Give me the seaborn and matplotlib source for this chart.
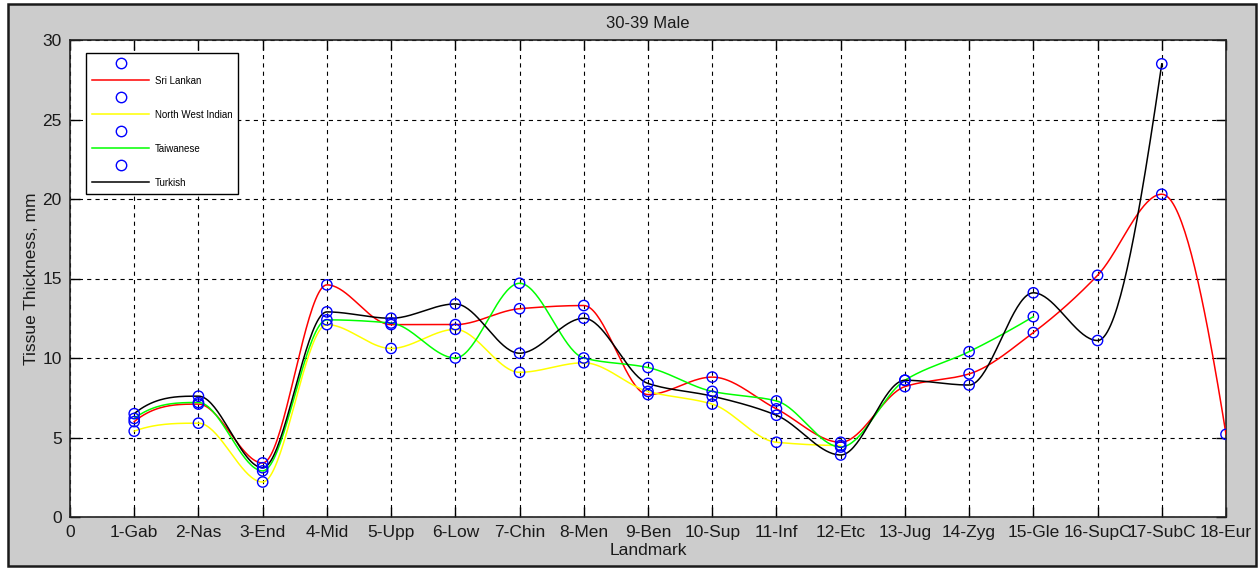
import numpy as np
import pandas as pd
import matplotlib
matplotlib.use("Agg")
import matplotlib.pyplot as plt
from matplotlib.lines import Line2D
from matplotlib.patches import Rectangle
import seaborn as sns

# ---------------- data ----------------
landmarks = ["1-Gab", "2-Nas", "3-End", "4-Mid", "5-Upp", "6-Low", "7-Chin", "8-Men",
             "9-Ben", "10-Sup", "11-Inf", "12-Etc", "13-Jug", "14-Zyg", "15-Gle",
             "16-SupC", "17-SubC", "18-Eur"]
sri_lankan = [6.0, 7.1, 3.4, 14.6, 12.1, 12.1, 13.1, 13.3, 7.7, 8.8, 6.8, 4.7,
              8.2, 9.0, 11.6, 15.2, 20.3, 5.2]
nw_indian = [5.4, 5.9, 2.2, 12.1, 10.6, 11.8, 9.1, 9.7, 7.9, 7.1, 4.7, 4.5]
taiwanese = [6.2, 7.2, 2.9, 12.4, 12.2, 10.0, 14.7, 10.0, 9.4, 7.9, 7.3, 4.4,
             8.6, 10.4, 12.6]
turkish = [6.5, 7.6, 3.1, 12.9, 12.5, 13.4, 10.3, 12.5, 8.4, 7.6, 6.4, 3.9,
           8.6, 8.3, 14.1, 11.1, 28.5]
series_names = ["Sri Lankan", "North West Indian", "Taiwanese", "Turkish"]
series_values = [sri_lankan, nw_indian, taiwanese, turkish]
series_colors = ["#ff0000", "#ffff00", "#00ff00", "#000000"]


def pchip(y, n_per=40):
    """Shape-preserving piecewise cubic Hermite curve through (1..n, y)."""
    y = np.asarray(y, float)
    x = np.arange(1, len(y) + 1, dtype=float)
    n = len(y)
    delta = np.diff(y)
    d = np.zeros(n)
    for k in range(1, n - 1):
        a, b = delta[k - 1], delta[k]
        if a * b > 0:
            d[k] = 2.0 / (1.0 / a + 1.0 / b)
    def end(d0, d1):
        v = (3 * d0 - d1) / 2.0
        if np.sign(v) != np.sign(d0):
            v = 0.0
        elif np.sign(d0) != np.sign(d1) and abs(v) > abs(3 * d0):
            v = 3 * d0
        return v
    d[0] = end(delta[0], delta[1])
    d[-1] = end(delta[-1], delta[-2])
    xs, ys = [], []
    for k in range(n - 1):
        t = np.linspace(0, 1, n_per, endpoint=(k == n - 2))
        h00 = 2 * t**3 - 3 * t**2 + 1
        h10 = t**3 - 2 * t**2 + t
        h01 = -2 * t**3 + 3 * t**2
        h11 = t**3 - t**2
        xs.append(x[k] + t)
        ys.append(h00 * y[k] + h10 * d[k] + h01 * y[k + 1] + h11 * d[k + 1])
    return np.concatenate(xs), np.concatenate(ys)


# ---------------- figure ----------------
plt.rcParams["font.family"] = ["Liberation Sans", "DejaVu Sans"]
plt.rcParams["lines.scale_dashes"] = False

fig = plt.figure(figsize=(12.6, 5.69), dpi=100, facecolor="white")
fig.patches.append(Rectangle((8 / 1260, 3 / 569), 1248 / 1260, 562 / 569,
                             transform=fig.transFigure, facecolor="#cccccc",
                             edgecolor="#1a1a1a", linewidth=1.8, zorder=-10))
ax = fig.add_axes([70 / 1260, 52 / 569, 1156 / 1260, 477 / 569])
ax.set_facecolor("white")

for name, vals, col in zip(series_names, series_values, series_colors):
    cx, cy = pchip(vals)
    sns.lineplot(x=cx, y=cy, color=col, linewidth=1.1, ax=ax, sort=False,
                 estimator=None, zorder=3)
for vals in series_values:
    pos = np.arange(1, len(vals) + 1)
    sns.scatterplot(x=pos, y=vals, marker="o", s=55, facecolor="none",
                    edgecolor="#0000ff", linewidth=1.0, ax=ax, zorder=4)

ax.set_xlim(0, 18)
ax.set_ylim(0, 30)
ax.set_xticks(np.arange(0, 19))
ax.set_xticklabels(["0"] + landmarks)
ax.set_yticks(np.arange(0, 31, 5))
ax.tick_params(direction="in", length=7, width=1, top=True, right=True,
               labelsize=12.5, labelcolor="#1a1a1a", pad=6)
ax.grid(True, color="black", linestyle=(0, (3, 3)), linewidth=0.8)
for s in ax.spines.values():
    s.set_color("#222222")
    s.set_linewidth(1.2)

ax.set_xlabel("Landmark", fontsize=12.5, color="#1a1a1a", labelpad=2)
ax.set_ylabel("Tissue Thickness, mm", fontsize=12.5, color="#1a1a1a", labelpad=2)
ax.set_title("30-39 Male", fontsize=12, color="#1a1a1a", pad=9)

handles, labels = [], []
for name, col in zip(series_names, series_colors):
    handles.append(Line2D([], [], linestyle="none", marker="o", markersize=7.5,
                          markerfacecolor="none", markeredgecolor="#0000ff"))
    labels.append(" ")
    handles.append(Line2D([], [], color=col, linewidth=1.1))
    labels.append(name)
leg = ax.legend(handles, labels, loc="upper left",
                bbox_to_anchor=(16 / 1156, (477 - 13) / 477),
                fontsize=7, frameon=True, fancybox=False, framealpha=1,
                edgecolor="black", handlelength=5.9, handletextpad=0.6,
                labelspacing=0.72, borderpad=0.6, borderaxespad=0)
leg.get_frame().set_linewidth(1.0)
leg.set_zorder(10)

fig.savefig("out.png", dpi=100, facecolor="white")
